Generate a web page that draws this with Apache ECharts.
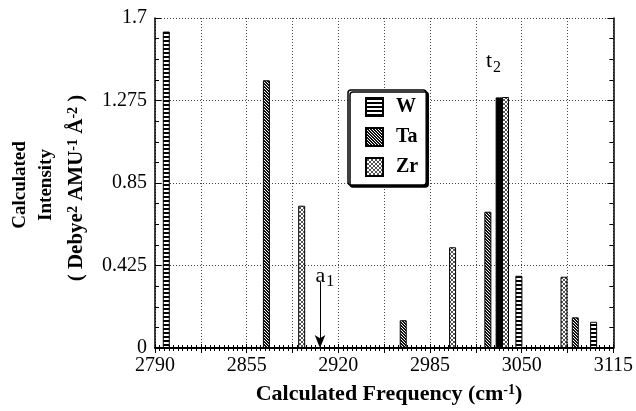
<!DOCTYPE html>
<html><head><meta charset="utf-8">
<script src="https://cdn.jsdelivr.net/npm/echarts@6/dist/echarts.min.js"></script>
<style>html,body{margin:0;padding:0;background:#fff}#c{width:636px;height:411px}</style>
</head><body><div id="c"></div>
<script>
// ---- data ----
const wFreq  = [2798, 3048, 3101];
const wVal   = [1.630, 0.372, 0.135];
const taFreq = [2869, 2966, 3026, 3034, 3088];
const taVal  = [1.379, 0.143, 0.702, 1.291, 0.158];
const zrFreq = [2894, 3001, 3038.5, 3080];
const zrVal  = [0.733, 0.519, 1.293, 0.367];
const xTicks = [2790, 2855, 2920, 2985, 3050, 3115];
const yTicks = [0, 0.425, 0.85, 1.275, 1.7];
const arrowA1 = {freq: 2907, from: 0.34, to: 0};
const labelA1 = {freq: 2910.5, val: 0.37};
const labelT2 = {freq: 3030, val: 1.475};

function pattern(draw, w, h) {
  const c = document.createElement('canvas'); c.width = w; c.height = h;
  const g = c.getContext('2d'); g.fillStyle = '#fff'; g.fillRect(0,0,w,h); draw(g);
  return {image: c, repeat: 'repeat'};
}
const wPat = pattern(g => { g.fillStyle = '#000'; g.fillRect(0,0,4,2); }, 4, 4);
const taPat = pattern(g => { g.fillStyle = '#111';
  for (let i = 0; i < 3; i++) { g.fillRect(i,i,1,1); g.fillRect((i+1)%3,i,1,1); } }, 3, 3);
const zrPat = pattern(g => { g.fillStyle = '#555';
  for (let i = 0; i < 4; i++) { g.fillRect(i,i,1,1); g.fillRect(3-i,i,1,1); } }, 4, 4);

const FONT = '"Liberation Serif", "Times New Roman", serif';
const pairs = (xs, ys) => xs.map((x, i) => [x, ys[i]]);

const chart = echarts.init(document.getElementById('c'));
const barBase = {type: 'bar', barWidth: 7, barGap: '-100%', xAxisIndex: 0, yAxisIndex: 0};

const taData = pairs(taFreq, taVal).map((d, i) => i === 3 ? {value: d, itemStyle: {color: '#000'}} : d);

chart.setOption({
  animation: false,
  grid: {left: 155, right: 20, top: 18, bottom: 63},
  xAxis: [
    {type: 'value', min: 2790, max: 3115, interval: 32.5, position: 'bottom',
     axisLine: {lineStyle: {color: '#000', width: 1.5}},
     axisTick: {show: true, length: 5, lineStyle: {color: '#000'}},
     minorTick: {show: true, splitNumber: 10, length: 3, lineStyle: {color: '#000'}},
     splitLine: {show: true, lineStyle: {color: '#444', type: [1, 2], width: 1}},
     axisLabel: {color: '#000', fontFamily: FONT, fontSize: 20, margin: 8,
       formatter: v => xTicks.some(t => Math.abs(t - v) < 1e-6) ? String(v) : ''}},
    {type: 'value', min: 2790, max: 3115, interval: 32.5, position: 'top',
     axisLine: {show: true, lineStyle: {color: '#000', width: 2}},
     axisTick: {show: true, length: 4, lineStyle: {color: '#000'}},
     minorTick: {show: true, splitNumber: 10, length: 3, lineStyle: {color: '#000'}},
     splitLine: {show: false}, axisLabel: {show: false}}
  ],
  yAxis: [
    {type: 'value', min: 0, max: 1.7, interval: 0.425, position: 'left',
     axisLine: {show: true, lineStyle: {color: '#000', width: 1.5}},
     axisTick: {show: true, inside: true, length: 6, lineStyle: {color: '#000'}},
     minorTick: {show: true, splitNumber: 4, length: 4, lineStyle: {color: '#000'}},
     splitLine: {show: true, lineStyle: {color: '#444', type: [1, 2], width: 1}},
     axisLabel: {color: '#000', fontFamily: FONT, fontSize: 20, margin: 8,
       formatter: v => yTicks.some(t => Math.abs(t - v) < 1e-6) ? String(+v.toFixed(3)) : ''}},
    {type: 'value', min: 0, max: 1.7, interval: 0.425, position: 'right',
     axisLine: {show: true, lineStyle: {color: '#000', width: 1.5}},
     axisTick: {show: true, inside: true, length: 6, lineStyle: {color: '#000'}},
     minorTick: {show: true, splitNumber: 4, length: 4, lineStyle: {color: '#000'}},
     splitLine: {show: false}, axisLabel: {show: false}}
  ],
  legend: {
    orient: 'vertical', left: 348, top: 90, width: 86, height: 92,
    padding: [7, 8, 8, 17], itemGap: 10, itemWidth: 17, itemHeight: 18, icon: 'rect',
    backgroundColor: '#fff', borderColor: '#000', borderWidth: 1.5, borderRadius: 3,
    shadowColor: '#000', shadowBlur: 0, shadowOffsetX: 2, shadowOffsetY: 2,
    textStyle: {fontFamily: FONT, fontWeight: 'bold', fontSize: 20, color: '#000', padding: [0, 0, 0, 8]},
    data: ['W', 'Ta', 'Zr']
  },
  graphic: [
    {type: 'text', x: 20, y: 185, rotation: Math.PI / 2,
     style: {text: 'Calculated', font: 'bold 19px ' + FONT, fill: '#000', align: 'center', verticalAlign: 'middle'}},
    {type: 'text', x: 46, y: 185, rotation: Math.PI / 2,
     style: {text: 'Intensity', font: 'bold 19px ' + FONT, fill: '#000', align: 'center', verticalAlign: 'middle'}},
    {type: 'text', x: 77, y: 188, rotation: Math.PI / 2,
     style: {text: '( Debye{s|2} AMU{s|-1} Å{s|-2} )', font: 'bold 21px ' + FONT, fill: '#000',
       align: 'center', verticalAlign: 'middle',
       rich: {s: {font: 'bold 14px ' + FONT, fill: '#000', verticalAlign: 'top', lineHeight: 13}}}},
    {type: 'text', x: 389, y: 394,
     style: {text: 'Calculated Frequency (cm{s|-1})', font: 'bold 22px ' + FONT, fill: '#000',
       align: 'center', verticalAlign: 'middle',
       rich: {s: {font: 'bold 14px ' + FONT, fill: '#000', verticalAlign: 'top', lineHeight: 13}}}}
  ],
  series: [
    Object.assign({}, barBase, {name: 'W', data: pairs(wFreq, wVal), itemStyle: {color: wPat, borderColor: '#000', borderWidth: 1}}),
    Object.assign({}, barBase, {name: 'Ta', data: taData, itemStyle: {color: taPat, borderColor: '#000', borderWidth: 1},
      markLine: {silent: true, symbol: ['none', 'arrow'], symbolSize: [8, 13], animation: false,
        lineStyle: {color: '#000', type: 'solid', width: 1}, label: {show: false},
        data: [[{coord: [arrowA1.freq, arrowA1.from]}, {coord: [arrowA1.freq, arrowA1.to]}]]},
      markPoint: {silent: true, symbol: 'circle', symbolSize: 1, itemStyle: {color: 'rgba(0,0,0,0)'},
        label: {show: true, position: 'inside', color: '#000', fontFamily: FONT, fontSize: 22,
          rich: {b: {fontFamily: FONT, fontSize: 22, color: '#000'},
                 sub: {fontFamily: FONT, fontSize: 16, color: '#000', verticalAlign: 'bottom', padding: [12, 0, 0, 1]}}},
        data: [
          {coord: [labelT2.freq, labelT2.val], label: {formatter: '{b|t}{sub|2}'}},
          {coord: [labelA1.freq, labelA1.val], label: {formatter: '{b|a}{sub|1}'}}
        ]}}),
    Object.assign({}, barBase, {name: 'Zr', data: pairs(zrFreq, zrVal), itemStyle: {color: zrPat, borderColor: '#000', borderWidth: 1}})
  ]
});
</script></body></html>
